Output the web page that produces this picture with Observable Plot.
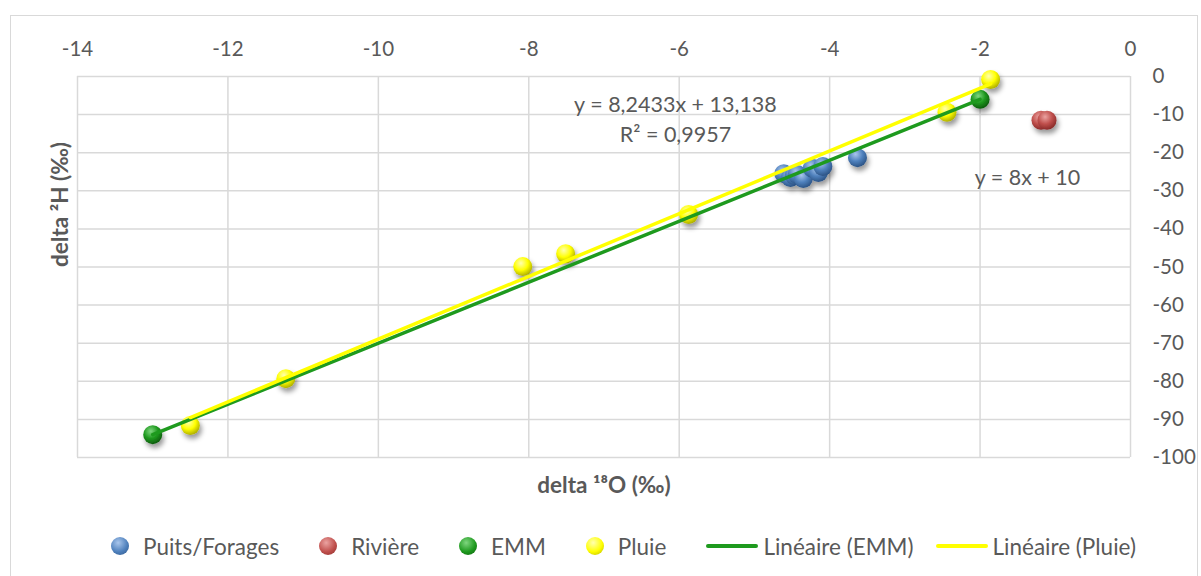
<!DOCTYPE html>
<html>
<head>
<meta charset="utf-8">
<script src="https://cdn.jsdelivr.net/npm/d3@7"></script>
<script src="https://cdn.jsdelivr.net/npm/@observablehq/plot@0.6"></script>
<style>
  html, body { margin: 0; padding: 0; background: #fff; width: 1201px; height: 576px; overflow: hidden; }
  #frame { position: absolute; left: 10px; top: 15px; width: 1188px; height: 600px; border: 1.5px solid #d9d9d9; box-sizing: border-box; pointer-events: none; }
  #chart { position: absolute; left: 0; top: 0; }
  #legend { position: absolute; left: 0; top: 530px; width: 1201px; height: 32px; display: flex; align-items: center; justify-content: flex-start;
            padding-left: 111px; box-sizing: border-box;
            font-family: Lato, "Open Sans", sans-serif; font-size: 22.5px; color: #595959; white-space: nowrap; }
  .item { display: flex; align-items: center; }
  .item.b { margin-right: 40px; }
  .item.l { margin-right: 22px; }
  .ball { width: 18px; height: 18px; border-radius: 50%; margin-right: 14px; }
  .line { width: 52px; height: 4px; margin-right: 5px; border-radius: 2px; }
</style>
</head>
<body>
<div id="chart"></div>
<div id="frame"></div>
<div id="legend"></div>
<script>
// ---- data ----
const puitsX   = [-4.61, -4.52, -4.47, -4.43, -4.35, -4.23, -4.15, -4.09, -3.63];
const puitsY   = [-25.5, -26.5, -26.0, -25.7, -26.8, -24.1, -25.2, -23.6, -21.3];
const riviereX = [-1.19, -1.11];
const riviereY = [-11.5, -11.5];
const emmX     = [-13.0, -2.0];
const emmY     = [-94.0, -6.0];
const pluieX   = [-12.5, -11.23, -8.08, -7.51, -5.875, -2.44, -1.86];
const pluieY   = [-91.6, -79.3, -49.9, -46.5, -36.2, -9.4, -0.8];

const xTicks = [-14, -12, -10, -8, -6, -4, -2, 0];
const yTicks = [0, -10, -20, -30, -40, -50, -60, -70, -80, -90, -100];

const seriesNames = ["Puits/Forages", "Rivière", "EMM", "Pluie", "Linéaire (EMM)", "Linéaire (Pluie)"];
const eqPluie = ["y = 8,2433x + 13,138", "R² = 0,9957"];
const eqEMM = "y = 8x + 10";

const toRows = (xs, ys) => xs.map((x, i) => ({x, y: ys[i]}));
const puits = toRows(puitsX, puitsY);
const riviere = toRows(riviereX, riviereY);
const emm = toRows(emmX, emmY);
const pluie = toRows(pluieX, pluieY);

const C = {
  blue: "#4f81bd", red: "#c0504d", green: "#1f9a1f", yellow: "#f2f200",
  greenLine: "#1e9a1e", yellowLine: "#ffff00", text: "#595959", grid: "#d9d9d9"
};

const chart = Plot.plot({
  width: 1201,
  height: 512,
  marginTop: 76,
  marginLeft: 77,
  marginRight: 71,
  marginBottom: 55,
  style: {fontFamily: "Lato, 'Open Sans', sans-serif", fontSize: "20.5px", color: C.text, background: "transparent"},
  x: {domain: [-14, 0]},
  y: {domain: [-100, 0]},
  marks: [
    Plot.gridX(xTicks, {stroke: C.grid, strokeOpacity: 1, strokeWidth: 1.5}),
    Plot.gridY(yTicks, {stroke: C.grid, strokeOpacity: 1, strokeWidth: 1.5}),
    Plot.axisX(xTicks, {anchor: "top", tickSize: 0, tickPadding: 21, tickFormat: d => String(d), label: null, fontSize: 20.5}),
    Plot.axisY(yTicks, {anchor: "right", tickSize: 0, tickPadding: 22, tickFormat: d => String(d), label: null, fontSize: 20.5}),
    Plot.dot(puits, {x: "x", y: "y", r: 9.5, fill: C.blue}),
    Plot.dot(riviere, {x: "x", y: "y", r: 9.5, fill: C.red}),
    Plot.dot(emm, {x: "x", y: "y", r: 9.5, fill: C.green}),
    Plot.dot(pluie, {x: "x", y: "y", r: 9.5, fill: C.yellow}),
    Plot.linearRegressionY(emm, {x: "x", y: "y", ci: 0, stroke: C.greenLine, strokeWidth: 3.5}),
    Plot.linearRegressionY(pluie, {x: "x", y: "y", ci: 0, stroke: C.yellowLine, strokeWidth: 3.5}),
    Plot.text([eqPluie[0]], {x: -6.05, y: -7.6, text: d => d, fill: C.text, fontSize: 21.5}),
    Plot.text([eqPluie[1]], {x: -6.05, y: -15.5, text: d => d, fill: C.text, fontSize: 21.5}),
    Plot.text([eqEMM], {x: -1.37, y: -26.6, text: d => d, fill: C.text, fontSize: 21.5}),
    Plot.text(["delta ²H (‰)"], {frameAnchor: "left", dx: -17, rotate: -90, fill: C.text, fontWeight: "bold", fontSize: 22.5}),
    Plot.text(["delta ¹⁸O (‰)"], {frameAnchor: "bottom", dy: 35, fill: C.text, fontWeight: "bold", fontSize: 22.5})
  ]
});

// sphere gradients + shadows
const defs = d3.create("svg:defs");
const grads = {blue: ["#a9c6ec", C.blue, "#2c5486"], red: ["#eba3a1", C.red, "#8a2b29"], green: ["#7fd67f", C.green, "#0d5c0d"], yellow: ["#ffffb0", "#ffff00", "#b0b000"]};
for (const [k, [a, b, c]] of Object.entries(grads)) {
  const g = defs.append("radialGradient").attr("id", "g-" + k).attr("cx", "40%").attr("cy", "32%").attr("r", "68%");
  g.append("stop").attr("offset", "0%").attr("stop-color", a);
  g.append("stop").attr("offset", "55%").attr("stop-color", b);
  g.append("stop").attr("offset", "100%").attr("stop-color", c);
}
const f = defs.append("filter").attr("id", "shadow").attr("x", "-50%").attr("y", "-50%").attr("width", "200%").attr("height", "200%");
f.append("feDropShadow").attr("dx", 2).attr("dy", 4).attr("stdDeviation", 2.5).attr("flood-color", "#000").attr("flood-opacity", 0.4);
chart.insertBefore(defs.node(), chart.firstChild);
const map = {[C.blue]: "blue", [C.red]: "red", [C.green]: "green", [C.yellow]: "yellow"};
for (const [col, k] of Object.entries(map)) {
  chart.querySelectorAll(`g[fill="${col}"]`).forEach(g => { g.setAttribute("fill", `url(#g-${k})`); g.setAttribute("filter", "url(#shadow)"); });
}
document.getElementById("chart").appendChild(chart);

// legend
const legend = d3.select("#legend");
const ballCss = {
  "Puits/Forages": "radial-gradient(circle at 40% 32%, #a9c6ec, #4f81bd 55%, #2c5486)",
  "Rivière": "radial-gradient(circle at 40% 32%, #eba3a1, #c0504d 55%, #8a2b29)",
  "EMM": "radial-gradient(circle at 40% 32%, #7fd67f, #1f9a1f 55%, #0d5c0d)",
  "Pluie": "radial-gradient(circle at 40% 32%, #ffffb0, #ffff00 55%, #b0b000)"
};
const lineCol = {"Linéaire (EMM)": C.greenLine, "Linéaire (Pluie)": C.yellowLine};
for (const name of seriesNames) {
  const isBall = !!ballCss[name];
  const it = legend.append("div").attr("class", "item " + (isBall ? "b" : "l"));
  if (isBall) it.append("div").attr("class", "ball").style("background", ballCss[name]);
  else it.append("div").attr("class", "line").style("background", lineCol[name]);
  it.append("span").text(name);
}
</script>
</body>
</html>
